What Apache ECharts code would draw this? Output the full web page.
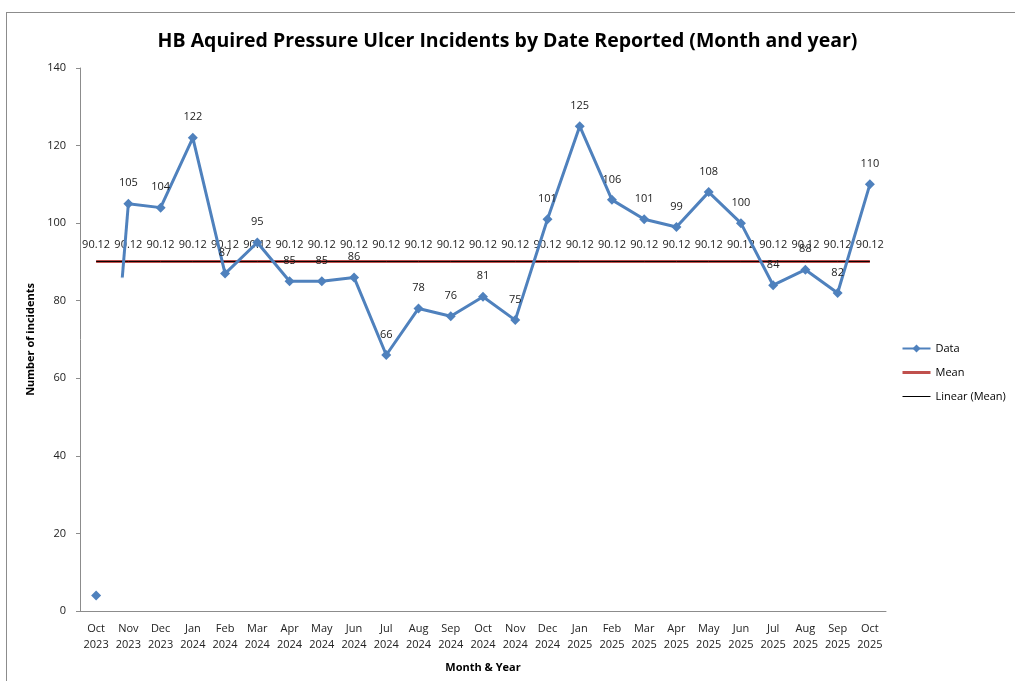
<!DOCTYPE html>
<html>
<head>
<meta charset="utf-8">
<script src="https://cdn.jsdelivr.net/npm/echarts@6/dist/echarts.min.js"></script>
<style>
  html, body { margin: 0; padding: 0; background: #fff; }
  #frame {
    position: absolute; left: 6px; top: 12px;
    width: 1015px; height: 680px;
    border: 1px solid #8c8c8c;
  }
  #chart { position: absolute; left: 0; top: 0; width: 1015px; height: 681px; }
</style>
</head>
<body>
<div id="frame"></div>
<div id="chart"></div>
<script>
// month / year labels
const months = ['Oct', 'Nov', 'Dec', 'Jan', 'Feb', 'Mar', 'Apr', 'May', 'Jun', 'Jul', 'Aug', 'Sep', 'Oct',
  'Nov', 'Dec', 'Jan', 'Feb', 'Mar', 'Apr', 'May', 'Jun', 'Jul', 'Aug', 'Sep', 'Oct']
const years = ['2023', '2023', '2023', '2024', '2024', '2024', '2024', '2024', '2024', '2024', '2024', '2024', '2024',
  '2024', '2024', '2025', '2025', '2025', '2025', '2025', '2025', '2025', '2025', '2025', '2025']
// incidents per month
const incidents = [4, 105, 104, 122, 87, 95, 85, 85, 86, 66, 78, 76, 81, 75, 101, 125, 106, 101, 99, 108, 100, 84, 88, 82, 110]
const meanValue = 90.12
const yTicks = [0, 20, 40, 60, 80, 100, 120, 140]

const categories = months.map((m, i) => m + '\n' + years[i])
const meanData = incidents.map(() => meanValue)
// main line starts at the second month, the first point sits on its own
const dataLine = incidents.map((v, i) => (i === 0 ? '-' : v))
// first segment only partly drawn in the original
const firstSeg = incidents.map((v, i) => (i < 2 ? v : '-'))

const blue = '#4F81BD'
const font = "'Open Sans', 'Noto Sans', sans-serif"

let mycharts = echarts.init(document.getElementById('chart'))
mycharts.setOption({
  animation: false,
  textStyle: { fontFamily: font },
  title: {
    text: 'HB Aquired Pressure Ulcer Incidents by Date Reported (Month and year)',
    left: 'center',
    top: 26,
    textStyle: {
      fontFamily: font,
      fontSize: 19.5,
      fontWeight: 'bold',
      color: '#000',
    },
  },
  legend: {
    orient: 'vertical',
    left: 896,
    top: 338,
    itemGap: 13,
    itemWidth: 28,
    itemHeight: 10,
    data: [
      { name: 'Data' },
      { name: 'Mean', itemStyle: { opacity: 0 }, lineStyle: { width: 3 } },
      { name: 'Linear (Mean)', itemStyle: { opacity: 0 }, lineStyle: { width: 1 } },
    ],
    textStyle: { fontSize: 11, color: '#000' },
  },
  grid: {
    left: 80,
    right: 129,
    top: 68,
    bottom: 70,
  },
  xAxis: {
    type: 'category',
    data: categories,
    boundaryGap: true,
    name: 'Month & Year',
    nameLocation: 'middle',
    nameGap: 51,
    nameTextStyle: { fontSize: 11, fontWeight: 'bold', color: '#000' },
    axisLine: { show: true, lineStyle: { color: '#8c8c8c', width: 1 } },
    axisTick: { show: false },
    axisLabel: {
      interval: 0,
      fontSize: 11,
      color: '#222',
      lineHeight: 16,
      margin: 10,
    },
    splitLine: { show: false },
  },
  yAxis: {
    type: 'value',
    min: yTicks[0],
    max: yTicks[yTicks.length - 1],
    interval: 20,
    name: 'Number of incidents',
    nameLocation: 'middle',
    nameGap: 43,
    nameTextStyle: { fontSize: 11, fontWeight: 'bold', color: '#000' },
    axisLine: { show: true, lineStyle: { color: '#8c8c8c', width: 1 } },
    axisTick: { show: true, inside: false, length: 4, lineStyle: { color: '#8c8c8c' } },
    axisLabel: { fontSize: 11, color: '#222', margin: 14 },
    splitLine: { show: false },
  },
  series: [
    {
      name: 'Mean',
      type: 'line',
      data: meanData,
      symbol: 'circle',
      symbolSize: 0,
      showSymbol: true,
      z: 2,
      lineStyle: { color: '#C0504D', width: 3 },
      itemStyle: { color: '#C0504D' },
      label: {
        show: true,
        position: 'top',
        distance: 11,
        fontSize: 11,
        color: '#222',
        formatter: (p) => p.value.toFixed(2),
      },
    },
    {
      name: 'Linear (Mean)',
      type: 'line',
      data: meanData,
      symbol: 'none',
      z: 3,
      lineStyle: { color: '#000', width: 1 },
      itemStyle: { color: '#000' },
    },
    {
      name: 'Data',
      type: 'line',
      data: dataLine,
      symbol: 'diamond',
      symbolSize: 10,
      z: 4,
      lineStyle: { color: blue, width: 3 },
      itemStyle: { color: blue },
      label: {
        show: true,
        position: 'top',
        distance: 10,
        fontSize: 11,
        color: '#222',
      },
    },
    {
      name: 'first',
      type: 'line',
      data: firstSeg.map((v, i) => (i === 0 ? { value: v, symbol: 'diamond' } : { value: v, symbol: 'none' })),
      symbolSize: 10,
      z: 4,
      itemStyle: { color: blue },
      lineStyle: {
        width: 3,
        color: {
          type: 'linear',
          x: 0,
          y: 0,
          x2: 0,
          y2: 1,
          colorStops: [
            { offset: 0, color: blue },
            { offset: 0.19, color: blue },
            { offset: 0.195, color: 'rgba(79,129,189,0)' },
            { offset: 1, color: 'rgba(79,129,189,0)' },
          ],
        },
      },
    },
  ],
})
</script>
</body>
</html>
